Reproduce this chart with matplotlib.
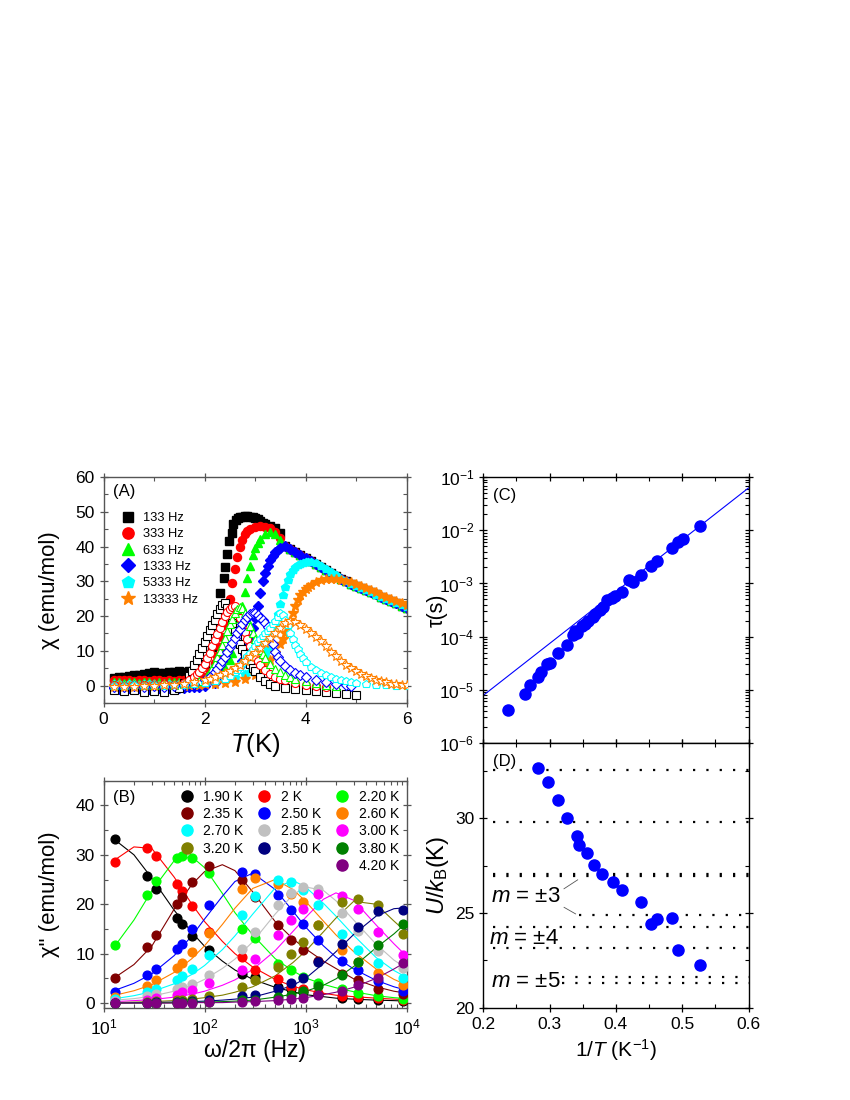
"""
plot.py -- ac susceptibility figure, four panels (A)-(D).
Writes out.png (850 x 1100 px).
"""
import numpy as np
import matplotlib
matplotlib.use("Agg")
import matplotlib.pyplot as plt
import matplotlib.ticker as mticker
from matplotlib.lines import Line2D

plt.rcParams["font.family"] = ["Liberation Sans", "DejaVu Sans"]
plt.rcParams["mathtext.fontset"] = "custom"
plt.rcParams["mathtext.rm"] = "Liberation Sans"
plt.rcParams["mathtext.it"] = "Liberation Sans:italic"
plt.rcParams["mathtext.bf"] = "Liberation Sans:bold"

# ── Panel A : chi' (filled) and chi'' (open) vs T ───────────────────────────
FREQS_A = ["133 Hz", "333 Hz", "633 Hz", "1333 Hz", "5333 Hz", "13333 Hz"]
COLORS_A = ["#000000", "#FF0000", "#00FF00", "#0000FF", "#00FFFF", "#FF8000"]
MARKERS_A = ["s", "o", "^", "D", "p", "*"]

T_LOW = [0.2, 0.3, 0.4, 0.5, 0.6, 0.7, 0.8, 0.9, 1.0, 1.1, 1.2, 1.3, 1.4, 1.5, 1.6, 1.7, 1.8]

# common paramagnetic tail of chi' (all low frequencies overlap here)
T_TAIL = [3.6, 3.7, 3.8, 3.9, 4.0, 4.1, 4.2, 4.3, 4.4, 4.5, 4.6, 4.7, 4.8, 4.9, 5.0,
          5.1, 5.2, 5.3, 5.4, 5.5, 5.6, 5.7, 5.8, 5.9, 6.0]
CHI1_TAIL = [40.2, 39.3, 38.4, 37.5, 36.7, 35.8, 35.0, 34.1, 33.3, 32.4, 31.6, 30.8, 30.0,
             29.3, 28.7, 28.1, 27.5, 26.9, 26.3, 25.6, 25.0, 24.4, 23.7, 23.0, 22.3]

# chi' (filled)
T1_133 = T_LOW + [1.9, 2.0, 2.15, 2.25, 2.31, 2.38, 2.41, 2.44, 2.49, 2.54, 2.57, 2.62, 2.66,
                  2.7, 2.75, 2.8, 2.85, 2.9, 2.95, 3.0, 3.05, 3.1, 3.15, 3.2, 3.3, 3.4, 3.5]
X1_133 = [2.2, 2.5, 2.6, 2.8, 3.0, 3.1, 3.4, 3.6, 3.9, 3.7, 3.5, 3.8, 4.0, 4.1, 4.0, 4.3, 4.6,
          5.2, 6.2, 11.0, 19.0, 26.5, 31.0, 34.0, 37.8, 41.5, 44.0, 46.5, 47.5, 48.3, 48.6,
          48.4, 48.8, 48.9, 48.5, 48.6, 48.1, 47.9, 47.3, 46.8, 46.5, 46.0, 45.2, 44.0]

T1_333 = T_LOW + [1.9, 2.0, 2.1, 2.2, 2.25, 2.3, 2.35, 2.4, 2.45, 2.5, 2.55, 2.6, 2.65, 2.7,
                  2.75, 2.8, 2.85, 2.9, 3.0, 3.1, 3.2, 3.3, 3.4, 3.5]
X1_333 = [1.6, 1.5, 1.7, 1.5, 1.4, 1.6, 1.5, 1.3, 1.5, 1.6, 1.4, 1.5, 1.3, 1.5, 1.6, 1.5, 1.7,
          1.9, 2.5, 4.0, 6.5, 8.5, 11.0, 14.0, 17.5, 21.0, 25.0, 29.5, 33.5, 37.0, 40.0,
          42.0, 43.5, 44.5, 45.1, 45.6, 45.8, 45.6, 45.2, 44.2, 42.5]

T1_633 = T_LOW + [1.9, 2.0, 2.1, 2.2, 2.3, 2.4, 2.5, 2.55, 2.6, 2.65, 2.7, 2.75, 2.8, 2.85,
                  2.9, 2.95, 3.0, 3.05, 3.1, 3.2, 3.3, 3.4, 3.5]
X1_633 = [0.9, 1.0, 0.8, 0.9, 1.0, 0.8, 0.9, 1.0, 0.8, 0.9, 0.8, 0.9, 1.0, 0.9, 0.8, 0.9, 1.0,
          1.0, 1.2, 1.8, 2.5, 3.5, 5.0, 7.5, 9.5, 12.5, 16.0, 19.5, 23.0, 27.0, 31.0, 34.5,
          37.5, 39.5, 41.0, 42.3, 43.6, 44.2, 43.6, 42.0]

T1_1333 = T_LOW + [1.9, 2.0, 2.2, 2.4, 2.6, 2.7, 2.75, 2.8, 2.85, 2.9, 2.95, 3.0, 3.05, 3.1,
                   3.15, 3.2, 3.25, 3.3, 3.35, 3.4, 3.45, 3.5]
X1_1333 = [-0.8, -0.9, -0.7, -0.8, -1.0, -0.8, -0.7, -0.9, -0.8, -0.6, -0.8, -0.7, -0.6, -0.8,
           -0.6, -0.5, -0.4, -0.3, 0.0, 0.8, 2.0, 4.0, 5.5, 7.0, 9.0, 11.0, 13.5, 16.5, 19.5,
           23.0, 26.5, 30.0, 32.5, 34.5, 36.0, 37.3, 38.3, 39.0, 39.6]

T1_5333 = T_LOW + [1.9, 2.0, 2.2, 2.4, 2.6, 2.8, 2.9, 3.0, 3.1, 3.2, 3.25, 3.3, 3.35, 3.4,
                   3.45, 3.5, 3.55, 3.6, 3.65, 3.7, 3.75, 3.8, 3.85, 3.9, 3.95, 4.0, 4.05,
                   4.1, 4.2, 4.3, 4.4, 4.5, 4.6, 4.7, 4.8, 4.9, 5.0, 5.1, 5.2, 5.3, 5.4, 5.5,
                   5.6, 5.7, 5.8, 5.9, 6.0]
X1_5333 = [0.4, 0.5, 0.3, 0.4, 0.5, 0.3, 0.4, 0.5, 0.4, 0.3, 0.5, 0.4, 0.3, 0.4, 0.5, 0.4, 0.5,
           0.6, 0.8, 1.2, 1.8, 2.5, 3.3, 4.0, 5.0, 6.5, 9.0, 10.5, 12.5, 15.0, 17.5, 20.5,
           23.5, 26.0, 28.5, 30.5, 32.0, 33.2, 34.0, 34.6, 35.0, 35.3, 35.5, 35.6, 35.6,
           35.2, 34.4, 33.5, 32.6, 31.7, 30.8, 30.0, 29.3, 28.6, 28.0, 27.4, 26.8, 26.2,
           25.6, 25.0, 24.4, 23.8, 23.2, 22.6]

T1_13333 = T_LOW + [1.9, 2.0, 2.2, 2.4, 2.6, 2.8, 3.0, 3.1, 3.2, 3.3, 3.4, 3.5, 3.55, 3.6,
                    3.65, 3.7, 3.75, 3.8, 3.85, 3.9, 3.95, 4.0, 4.05, 4.1, 4.2, 4.3, 4.4,
                    4.5, 4.6, 4.7, 4.8, 4.9, 5.0, 5.1, 5.2, 5.3, 5.4, 5.5, 5.6, 5.7, 5.8,
                    5.9, 6.0]
X1_13333 = [0.0, 0.1, -0.1, 0.0, 0.1, 0.0, -0.1, 0.0, 0.1, 0.0, 0.1, 0.0, -0.1, 0.1, 0.0,
            0.1, 0.2, 0.3, 0.4, 0.6, 0.8, 1.1, 1.8, 3.0, 4.0, 5.5, 7.5, 9.5, 12.0, 13.5,
            15.0, 17.0, 19.0, 21.0, 23.0, 24.5, 26.0, 27.0, 27.8, 28.5, 29.0, 29.8, 30.3,
            30.6, 30.7, 30.6, 30.4, 30.1, 29.7, 29.2, 28.6, 28.0, 27.4, 26.8, 26.2, 25.6,
            25.0, 24.4, 23.8, 23.2]

# chi'' (open)
T2_133 = [0.2, 0.4, 0.6, 0.8, 1.0, 1.2, 1.4, 1.5, 1.6, 1.7, 1.75, 1.8, 1.85, 1.9, 1.95, 2.0,
          2.05, 2.1, 2.15, 2.2, 2.25, 2.3, 2.35, 2.4, 2.45, 2.5, 2.55, 2.6, 2.65, 2.7, 2.75,
          2.8, 2.85, 2.9, 2.95, 3.0, 3.1, 3.2, 3.3, 3.4, 3.6, 3.8, 4.0, 4.2, 4.4, 4.6, 4.8,
          5.0]
X2_133 = [-1.4, -1.6, -1.3, -1.8, -1.5, -1.9, -1.4, -0.6, 0.8, 2.8, 4.3, 5.8, 7.4, 9.0,
          10.7, 12.4, 14.2, 15.9, 17.4, 19.0, 20.6, 21.9, 23.1, 23.9, 22.4, 20.3, 17.9,
          15.6, 13.6, 12.0, 10.5, 9.0, 7.6, 6.2, 5.1, 4.1, 2.6, 1.3, 0.5, 0.0, -0.6, -1.0,
          -1.3, -1.6, -1.9, -2.1, -2.4, -2.6]

T2_333 = [0.2, 0.4, 0.6, 0.8, 1.0, 1.2, 1.4, 1.6, 1.7, 1.8, 1.85, 1.9, 1.95, 2.0, 2.05, 2.1,
          2.15, 2.2, 2.25, 2.3, 2.35, 2.4, 2.45, 2.5, 2.55, 2.6, 2.65, 2.7, 2.75, 2.8, 2.85,
          2.9, 2.95, 3.0, 3.05, 3.1, 3.2, 3.3, 3.4, 3.5, 3.6, 3.8, 4.0, 4.2, 4.4]
X2_333 = [0.2, 0.0, 0.3, 0.1, 0.2, 0.4, 0.3, 0.8, 1.5, 2.5, 3.2, 4.0, 5.0, 6.3, 7.8, 9.5,
          11.3, 13.0, 14.8, 16.5, 18.3, 20.0, 21.3, 22.0, 22.6, 22.8, 21.5, 19.5, 17.5,
          15.5, 13.5, 11.5, 9.8, 8.2, 7.0, 6.0, 4.5, 3.3, 2.5, 2.0, 1.5, 0.8, 0.2, -0.2,
          -0.5]

T2_633 = [0.2, 0.4, 0.6, 0.8, 1.0, 1.2, 1.4, 1.6, 1.8, 1.9, 2.0, 2.05, 2.1, 2.15, 2.2, 2.25,
          2.3, 2.35, 2.4, 2.45, 2.5, 2.55, 2.6, 2.65, 2.7, 2.75, 2.8, 2.85, 2.9, 2.95, 3.0,
          3.05, 3.1, 3.15, 3.2, 3.3, 3.4, 3.5, 3.6, 3.7, 3.8, 4.0, 4.2, 4.4, 4.6]
X2_633 = [0.3, 0.2, 0.4, 0.2, 0.3, 0.4, 0.3, 0.5, 0.7, 1.2, 2.0, 2.8, 3.8, 5.0, 6.5, 8.2,
          10.0, 11.8, 13.8, 15.8, 17.7, 19.3, 20.8, 22.0, 22.7, 22.3, 21.0, 19.3, 17.2,
          15.2, 13.3, 11.7, 10.3, 9.0, 8.0, 6.2, 4.8, 3.8, 3.0, 2.4, 1.9, 1.2, 0.7, 0.3,
          0.0]

T2_1333 = [0.2, 0.4, 0.6, 0.8, 1.0, 1.2, 1.4, 1.6, 1.8, 2.0, 2.1, 2.2, 2.25, 2.3, 2.35, 2.4,
           2.45, 2.5, 2.55, 2.6, 2.65, 2.7, 2.75, 2.8, 2.85, 2.9, 2.95, 3.0, 3.05, 3.1, 3.15,
           3.2, 3.25, 3.3, 3.35, 3.4, 3.45, 3.5, 3.6, 3.7, 3.8, 3.9, 4.0, 4.2, 4.4, 4.6,
           4.8, 4.9]
X2_1333 = [-0.3, -0.4, -0.2, -0.3, -0.2, -0.3, -0.1, 0.1, 0.5, 1.5, 2.5, 3.8, 4.8, 5.8, 7.0,
           8.3, 9.6, 11.0, 12.3, 13.7, 15.0, 16.3, 17.6, 18.8, 19.8, 20.5, 21.0, 21.0,
           20.3, 19.5, 18.8, 18.0, 16.8, 14.5, 12.0, 9.8, 8.3, 7.2, 5.6, 4.5, 3.7, 3.0,
           2.4, 1.6, 0.9, 0.5, 0.2, 0.0]

T2_5333 = [0.2, 0.4, 0.6, 0.8, 1.0, 1.2, 1.4, 1.6, 1.8, 2.0, 2.2, 2.4, 2.5, 2.6, 2.65, 2.7,
           2.75, 2.8, 2.85, 2.9, 2.95, 3.0, 3.05, 3.1, 3.15, 3.2, 3.25, 3.3, 3.35, 3.4, 3.45,
           3.5, 3.55, 3.6, 3.65, 3.7, 3.75, 3.8, 3.85, 3.9, 3.95, 4.0, 4.1, 4.2, 4.3, 4.4,
           4.5, 4.6, 4.7, 4.8, 4.9, 5.0, 5.2, 5.4, 5.6, 5.8, 6.0]
X2_5333 = [0.0, -0.1, 0.1, 0.0, 0.1, 0.0, 0.2, 0.2, 0.4, 0.7, 1.2, 2.0, 2.8, 3.8, 4.5, 5.4,
           6.4, 7.5, 8.4, 9.4, 10.4, 11.5, 12.4, 13.3, 14.2, 15.0, 15.8, 16.7, 17.6, 18.6,
           19.7, 20.8, 20.3, 19.0, 17.3, 15.2, 13.4, 11.8, 10.4, 9.0, 7.8, 6.8, 5.4, 4.4,
           3.6, 3.0, 2.5, 2.0, 1.6, 1.3, 1.0, 0.8, 0.5, 0.3, 0.1, 0.0, -0.1]

T2_13333 = [0.2, 0.4, 0.6, 0.8, 1.0, 1.2, 1.4, 1.6, 1.8, 2.0, 2.1, 2.2, 2.3, 2.4, 2.5, 2.6,
            2.7, 2.8, 2.9, 3.0, 3.1, 3.2, 3.3, 3.4, 3.5, 3.6, 3.7, 3.8, 3.9, 4.0, 4.1, 4.2,
            4.3, 4.4, 4.5, 4.6, 4.7, 4.8, 4.9, 5.0, 5.1, 5.2, 5.3, 5.4, 5.5, 5.6, 5.7, 5.8,
            5.9, 6.0]
X2_13333 = [-0.5, -0.4, -0.3, -0.2, 0.0, 0.1, 0.3, 0.5, 1.0, 1.6, 2.0, 2.5, 3.0, 3.6, 4.3,
            5.0, 6.0, 7.0, 8.2, 9.5, 10.8, 12.2, 13.6, 15.0, 16.6, 17.9, 18.5, 18.3, 17.4,
            16.3, 15.1, 14.0, 12.7, 11.3, 9.8, 8.4, 7.1, 6.0, 5.0, 4.1, 3.4, 2.7, 2.1, 1.6,
            1.2, 0.9, 0.6, 0.4, 0.2, 0.1]

# ── Panel B : chi'' vs frequency ────────────────────────────────────────────
TEMPS_B = ["1.90 K", "2 K", "2.20 K", "2.35 K", "2.50 K", "2.60 K", "2.70 K",
           "2.85 K", "3.00 K", "3.20 K", "3.50 K", "3.80 K", "4.20 K"]
COLORS_B = ["#000000", "#FF0000", "#00FF00", "#800000", "#0000FF", "#FF8000", "#00FFFF",
            "#C0C0C0", "#FF00FF", "#808000", "#000080", "#008000", "#800080"]
F_DATA = [13, 27, 33, 53, 60, 76, 110, 234, 316, 533, 718, 935, 1343, 2318, 3333, 5250, 9190]
F_FIT = [13, 20, 30, 50, 75, 100, 150, 200, 300, 500, 750, 1000, 1500, 2000, 3000, 5000,
         7500, 10000]

D_190 = [33.1, 25.8, 23.0, 17.2, 16.0, 13.5, 10.7, 5.9, 5.3, 3.3, 2.8, 2.2, 1.8, 1.1, 0.8, 0.7, 0.5]
D_200 = [28.6, 31.4, 29.8, 24.0, 22.7, 19.6, 14.4, 9.3, 6.6, 4.8, 3.3, 2.8, 2.1, 1.4, 1.2, 1.0, 0.7]
D_220 = [11.7, 21.9, 24.8, 29.4, 29.7, 29.4, 26.4, 14.9, 13.2, 8.0, 6.6, 5.2, 4.0, 2.8, 2.0, 1.5, 0.9]
D_235 = [5.1, 11.3, 13.7, 20.0, 21.5, 24.5, 27.7, 25.0, 21.5, 15.9, 12.8, 10.8, 8.6, 5.8, 4.6, 2.9, 1.8]
D_250 = [2.2, 5.6, 6.8, 11.0, 11.9, 14.9, 19.8, 26.5, 26.1, 21.9, 18.8, 16.1, 12.7, 8.6, 6.6, 4.5, 2.4]
D_260 = [1.2, 3.4, 4.7, 7.1, 8.1, 10.3, 14.2, 23.0, 25.3, 24.0, 22.0, 20.5, 15.7, 10.8, 8.4, 6.0, 3.6]
D_270 = [0.9, 2.2, 2.9, 4.7, 5.4, 6.8, 9.7, 17.9, 21.7, 25.0, 24.5, 22.8, 19.8, 13.9, 10.8, 8.2, 5.1]
D_285 = [0.5, 1.4, 1.9, 2.9, 3.3, 3.9, 5.6, 11.0, 14.4, 19.9, 22.3, 23.5, 23.0, 18.2, 14.6, 10.5, 7.0]
D_300 = [0.3, 0.7, 1.0, 1.6, 2.2, 2.6, 4.1, 6.6, 9.0, 13.7, 16.9, 19.1, 22.1, 21.6, 19.1, 14.4, 9.8]
D_320 = [0.1, 0.3, 0.4, 0.6, 0.7, 0.9, 1.4, 3.2, 4.7, 7.4, 10.0, 12.4, 15.9, 20.5, 21.1, 19.8, 14.0]
D_350 = [0.0, 0.1, 0.2, 0.3, 0.3, 0.4, 0.6, 1.4, 1.7, 2.8, 4.1, 5.1, 8.3, 12.0, 15.3, 18.6, 18.8]
D_380 = [0.0, 0.0, 0.1, 0.1, 0.2, 0.2, 0.3, 0.6, 0.7, 1.2, 1.7, 2.4, 3.4, 5.6, 8.3, 11.7, 16.1]
D_420 = [0.0, 0.0, 0.0, 0.1, 0.1, 0.1, 0.2, 0.3, 0.4, 0.6, 0.9, 1.1, 1.6, 2.5, 3.6, 5.1, 8.1]

FIT_190 = [33.0, 30.0, 25.3, 18.8, 14.3, 11.5, 8.5, 6.7, 4.8, 3.2, 2.3, 1.7, 1.3, 1.0, 0.8, 0.6, 0.5, 0.4]
FIT_200 = [29.0, 31.6, 31.3, 25.5, 20.0, 16.5, 12.5, 10.0, 7.3, 4.8, 3.4, 2.7, 2.0, 1.6, 1.3, 1.0, 0.8, 0.7]
FIT_220 = [11.6, 16.8, 22.7, 28.8, 29.6, 27.4, 22.2, 18.3, 13.8, 9.0, 6.5, 5.1, 3.8, 3.1, 2.3, 1.5, 1.1, 0.9]
FIT_235 = [5.2, 7.8, 11.5, 19.0, 24.0, 26.6, 28.0, 26.8, 22.5, 16.5, 13.0, 11.0, 8.5, 7.0, 4.9, 3.3, 2.4, 2.0]
FIT_250 = [2.6, 4.0, 5.9, 9.6, 13.6, 17.0, 21.6, 24.6, 26.3, 23.0, 18.6, 15.4, 11.6, 9.3, 6.9, 4.6, 3.3, 2.6]
FIT_260 = [1.6, 2.5, 3.7, 6.2, 9.0, 11.6, 15.9, 19.2, 23.2, 25.0, 23.0, 20.6, 16.6, 13.8, 10.4, 6.9, 4.8, 3.7]
FIT_270 = [0.9, 1.5, 2.3, 3.9, 5.8, 7.6, 10.8, 13.6, 18.0, 23.3, 24.8, 23.5, 20.2, 17.6, 13.7, 9.2, 6.6, 5.2]
FIT_285 = [0.6, 0.9, 1.4, 2.4, 3.6, 4.8, 7.0, 8.9, 12.4, 18.0, 21.9, 23.5, 22.8, 20.7, 16.8, 11.9, 8.7, 7.0]
FIT_300 = [0.3, 0.5, 0.7, 1.2, 1.8, 2.4, 3.6, 4.7, 6.8, 10.6, 14.5, 17.3, 21.0, 22.3, 20.8, 15.8, 12.0, 9.5]
FIT_320 = [0.1, 0.2, 0.3, 0.5, 0.8, 1.1, 1.6, 2.2, 3.3, 5.5, 8.2, 10.5, 14.4, 17.2, 20.6, 20.0, 16.6, 14.3]
FIT_350 = [0.0, 0.1, 0.1, 0.2, 0.3, 0.4, 0.6, 0.8, 1.2, 2.4, 3.6, 5.0, 8.0, 10.4, 13.9, 17.6, 19.1, 19.3]
FIT_380 = [0.0, 0.0, 0.0, 0.1, 0.1, 0.2, 0.3, 0.4, 0.6, 1.2, 1.8, 2.4, 3.6, 4.9, 7.4, 11.2, 14.0, 16.3]
FIT_420 = [0.0, 0.0, 0.0, 0.0, 0.1, 0.1, 0.1, 0.2, 0.3, 0.5, 0.8, 1.1, 1.7, 2.2, 3.2, 5.0, 6.9, 8.4]

# ── Panel C : relaxation time vs 1/T ────────────────────────────────────────
INV_T_C = [0.2377, 0.263, 0.2705, 0.283, 0.2866, 0.2966, 0.3007, 0.3132, 0.3259, 0.335,
           0.338, 0.341, 0.3485, 0.3535, 0.3585, 0.3651, 0.3687, 0.3761, 0.3811, 0.3862,
           0.3937, 0.3988, 0.4089, 0.4204, 0.4264, 0.438, 0.4527, 0.4627, 0.4844, 0.4929,
           0.501, 0.5261]
TAU_C = [4.07e-6, 8.3e-6, 1.2e-5, 1.74e-5, 2.14e-5, 3.09e-5, 3.16e-5, 4.9e-5, 6.9e-5,
         1.05e-4, 1.29e-4, 1.15e-4, 1.55e-4, 1.74e-4, 2.0e-4, 2.34e-4, 2.63e-4, 3.16e-4,
         3.63e-4, 4.9e-4, 5.25e-4, 5.75e-4, 6.9e-4, 1.17e-3, 1.07e-3, 1.45e-3, 2.09e-3,
         2.63e-3, 4.68e-3, 6.0e-3, 6.9e-3, 1.2e-2]
FIT_X_C = [0.2, 0.6]
FIT_TAU_C = [7.8e-6, 6.3e-2]

# ── Panel D : effective barrier vs 1/T ──────────────────────────────────────
INV_T_D = [0.2821, 0.2981, 0.3132, 0.3259, 0.341, 0.345, 0.357, 0.3671, 0.3787, 0.3962,
           0.4089, 0.4375, 0.4527, 0.4627, 0.4853, 0.4944, 0.5261]
U_D = [32.66, 31.95, 30.96, 30.0, 29.06, 28.58, 28.17, 27.55, 27.05, 26.66, 26.22, 25.59,
       24.41, 24.67, 24.76, 23.07, 22.27]
LEVELS_D = [32.56, 29.8, 27.05, 26.97, 24.89, 24.27, 23.17, 21.62, 21.3]
LEVEL_START_D = [0.215, 0.215, 0.215, 0.215, 0.345, 0.215, 0.215, 0.318, 0.318]


def style_axes(ax, edge):
    for sp in ax.spines.values():
        sp.set_color(edge)
        sp.set_linewidth(1.0)
    ax.tick_params(which="both", top=True, right=True, color=edge, labelsize=12.5,
                   labelcolor="black")
    ax.tick_params(which="major", direction="inout", length=6, width=0.9)
    ax.tick_params(which="minor", direction="in", length=3, width=0.8)


fig = plt.figure(figsize=(8.5, 11), dpi=100)
ax_a = fig.add_axes([0.1218, 0.3609, 0.3565, 0.2055])
ax_b = fig.add_axes([0.1218, 0.0836, 0.3565, 0.2067])
ax_c = fig.add_axes([0.5686, 0.3248, 0.3120, 0.2413])
ax_d = fig.add_axes([0.5686, 0.0839, 0.3120, 0.2409])

# ── (A) ─────────────────────────────────────────────────────────────────────
filled = [(T1_133, X1_133), (T1_333, X1_333), (T1_633, X1_633), (T1_1333, X1_1333),
          (T1_5333, X1_5333), (T1_13333, X1_13333)]
opened = [(T2_133, X2_133), (T2_333, X2_333), (T2_633, X2_633), (T2_1333, X2_1333),
          (T2_5333, X2_5333), (T2_13333, X2_13333)]
sizes = [5.2, 5.8, 5.8, 4.8, 6.2, 7.2]

for i, (t, x) in enumerate(filled):
    c, m, s = COLORS_A[i], MARKERS_A[i], sizes[i]
    if i < 4:
        ax_a.plot(T_TAIL, CHI1_TAIL, ls="none", marker=m, ms=s, color=c, mec=c, zorder=2)
    ax_a.plot(t, x, ls="none", marker=m, ms=s, color=c, mec=c, zorder=2)
for i, (t, x) in enumerate(opened):
    c, m, s = COLORS_A[i], MARKERS_A[i], sizes[i]
    ax_a.plot(t, x, ls="none", marker=m, ms=s, mfc="white", mec=c, mew=0.8, zorder=3)

handles_a = [Line2D([], [], ls="none", marker=m, ms=s * 1.4, color=c, mec=c)
             for c, m, s in zip(COLORS_A, MARKERS_A, sizes)]
ax_a.legend(handles_a, FREQS_A, loc="upper left", bbox_to_anchor=(0.03, 0.885),
            frameon=False, fontsize=9.3, labelspacing=0.33, handletextpad=0.65,
            handlelength=1.0, borderpad=0.2)
ax_a.text(0.032, 0.935, "(A)", transform=ax_a.transAxes, fontsize=12, va="center")

ax_a.set_xlim(0, 6)
ax_a.set_ylim(-5, 60)
ax_a.xaxis.set_major_locator(mticker.MultipleLocator(2))
ax_a.xaxis.set_minor_locator(mticker.MultipleLocator(1))
ax_a.yaxis.set_major_locator(mticker.MultipleLocator(10))
ax_a.yaxis.set_minor_locator(mticker.MultipleLocator(5))
ax_a.set_xlabel("$T$(K)", fontsize=18.5)
ax_a.xaxis.set_label_coords(0.5, -0.125)
ax_a.set_ylabel("χ (emu/mol)", fontsize=16)
ax_a.yaxis.set_label_coords(-0.145, 0.5)
style_axes(ax_a, "#555555")

# ── (B) ─────────────────────────────────────────────────────────────────────
data_b = [D_190, D_200, D_220, D_235, D_250, D_260, D_270, D_285, D_300, D_320, D_350,
          D_380, D_420]
fit_b = [FIT_190, FIT_200, FIT_220, FIT_235, FIT_250, FIT_260, FIT_270, FIT_285, FIT_300,
         FIT_320, FIT_350, FIT_380, FIT_420]
for c, d, f in zip(COLORS_B, data_b, fit_b):
    ax_b.plot(F_FIT, f, "-", color=c, lw=0.8, zorder=2)
    ax_b.plot(F_DATA, d, ls="none", marker="o", ms=6.3, color=c, mec=c, zorder=3)

hb = [Line2D([], [], ls="none", marker="o", ms=8, color=c, mec=c) for c in COLORS_B]
blank = Line2D([], [], ls="none")
# column-wise filling: reorder so the legend reads row by row
order = [0, 3, 6, 9, None, 1, 4, 7, 10, None, 2, 5, 8, 11, 12]
leg_h = [hb[k] if k is not None else blank for k in order]
leg_l = [TEMPS_B[k] if k is not None else "" for k in order]
ax_b.legend(leg_h, leg_l, ncol=3, loc="upper right", bbox_to_anchor=(1.012, 1.01),
            frameon=False, fontsize=10, labelspacing=0.24, handletextpad=0.7,
            handlelength=1.0, columnspacing=1.0, borderpad=0.3)
ax_b.text(0.032, 0.925, "(B)", transform=ax_b.transAxes, fontsize=12, va="center")

ax_b.set_xscale("log")
ax_b.set_xlim(10, 1e4)
ax_b.set_ylim(-1, 45)
ax_b.yaxis.set_major_locator(mticker.MultipleLocator(10))
ax_b.yaxis.set_minor_locator(mticker.MultipleLocator(5))
ax_b.set_xlabel("ω/2π (Hz)", fontsize=16.5)
ax_b.xaxis.set_label_coords(0.5, -0.135)
ax_b.set_ylabel('χ" (emu/mol)', fontsize=16)
ax_b.yaxis.set_label_coords(-0.145, 0.5)
style_axes(ax_b, "#555555")

# ── (C) ─────────────────────────────────────────────────────────────────────
ax_c.plot(FIT_X_C, FIT_TAU_C, "-", color="#0000FF", lw=0.8)
ax_c.plot(INV_T_C, TAU_C, ls="none", marker="o", ms=8, color="#0000FF")
ax_c.set_yscale("log")
ax_c.set_xlim(0.2, 0.6)
ax_c.set_ylim(1e-6, 1e-1)
ax_c.yaxis.set_major_locator(mticker.LogLocator(base=10, numticks=10))
ax_c.yaxis.set_minor_locator(mticker.LogLocator(base=10, subs=np.arange(2, 10), numticks=10))
ax_c.yaxis.set_minor_formatter(mticker.NullFormatter())
ax_c.xaxis.set_major_locator(mticker.MultipleLocator(0.1))
ax_c.xaxis.set_minor_locator(mticker.MultipleLocator(0.05))
ax_c.tick_params(axis="x", labelbottom=False)
ax_c.text(0.035, 0.93, "(C)", transform=ax_c.transAxes, fontsize=12, va="center")
ax_c.set_ylabel("τ(s)", fontsize=15.5)
ax_c.yaxis.set_label_coords(-0.135, 0.5)
style_axes(ax_c, "black")

# ── (D) ─────────────────────────────────────────────────────────────────────
for lv, x0 in zip(LEVELS_D, LEVEL_START_D):
    ax_d.plot([x0, 0.6], [lv, lv], color="black", lw=1.6, ls=(0, (1, 5)), zorder=1)
ax_d.plot(INV_T_D, U_D, ls="none", marker="o", ms=8, color="#0000FF", zorder=3)

ax_d.text(0.211, 25.85, "$m$ = ±3", fontsize=16, va="center")
ax_d.text(0.209, 23.68, "$m$ = ±4", fontsize=16, va="center")
ax_d.text(0.211, 21.40, "$m$ = ±5", fontsize=16, va="center")
ax_d.annotate("", xy=(0.346, 26.84), xytext=(0.318, 26.2),
              arrowprops=dict(arrowstyle="-", color="#555555", lw=0.6))
ax_d.annotate("", xy=(0.343, 24.88), xytext=(0.318, 25.38),
              arrowprops=dict(arrowstyle="-", color="#555555", lw=0.6))
ax_d.text(0.035, 0.93, "(D)", transform=ax_d.transAxes, fontsize=12, va="center")

ax_d.set_xlim(0.2, 0.6)
ax_d.set_ylim(20, 34)
ax_d.xaxis.set_major_locator(mticker.MultipleLocator(0.1))
ax_d.xaxis.set_minor_locator(mticker.MultipleLocator(0.05))
ax_d.yaxis.set_major_locator(mticker.MultipleLocator(5))
ax_d.yaxis.set_minor_locator(mticker.MultipleLocator(2.5))
ax_d.xaxis.set_major_formatter(mticker.FuncFormatter(lambda v, _: f"{v:.1f}"))
ax_d.set_xlabel("1/$T$ (K$^{-1}$)", fontsize=15)
ax_d.xaxis.set_label_coords(0.5, -0.11)
ax_d.set_ylabel("$U$/$k_{\\mathrm{B}}$(K)", fontsize=17)
ax_d.yaxis.set_label_coords(-0.12, 0.5)
style_axes(ax_d, "black")

fig.savefig("out.png", dpi=100)
